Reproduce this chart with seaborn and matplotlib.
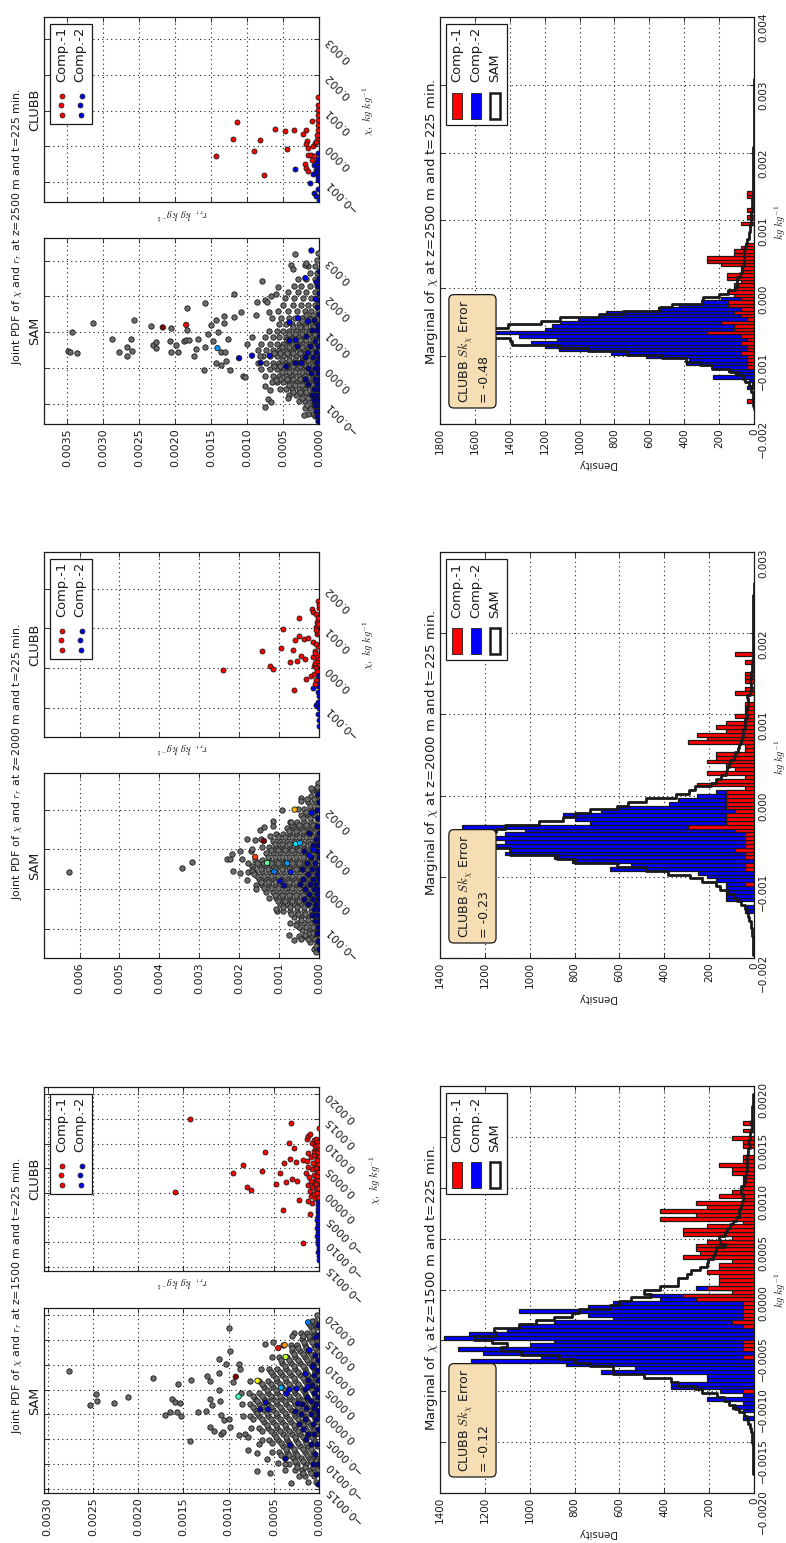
import numpy as np
import matplotlib
matplotlib.use("Agg")
import matplotlib.pyplot as plt
import seaborn as sns
from matplotlib.patches import Rectangle
from matplotlib.lines import Line2D
from matplotlib.transforms import Affine2D
from matplotlib.ticker import FuncFormatter

# ---------------- marginal histograms (bar heights per bin) ----------------
blue_1500_start = -21
blue_1500 = [50,0,50,100,50,210,50,150,370,370,210,210,680,530,840,1260,950,1210,1320,1000,890,
             1380,1270,1100,1050,890,630,740,1050,740,630,420,470,0,260]
red_1500_start = -14
red_1500 = [50,0,0,0,0,0,0,0,0,50,0,50,50,50,0,0,0,50,100,50,50,50,50,50,260,315,100,210,155,155,155,210,155,155,
            100,315,240,260,260,210,100,315,315,210,50,420,260,420,210,260,50,155,100,50,50,50,50,100,100,155,50,50,
            0,0,50,50,100,0,50,0,50]
sam_1500_start = -35
sam_1500 = [3,3,3,4,4,5,5,6,8,8,10,15,20,25,30,45,65,85,110,135,165,230,265,340,370,490,630,630,730,800,870,1040,
            1130,1100,1170,1250,1150,1160,1050,970,890,810,780,640,600,550,460,490,420,340,340,300,280,240,210,205,
            185,175,170,130,150,155,130,120,105,95,80,65,65,60,55,50,50,60,60,45,40,40,35,30,30,30,30,25,25,20,25,18,
            20,12,8,12,8,8,8,10,5,5,4]

blue_2000_start = -19
blue_2000 = [40,40,0,125,125,125,125,125,170,210,250,640,550,810,890,1110,1090,1150,1110,1360,1110,1020,1300,730,
             800,850,680,600,380,340,255,170]
red_2000_start = -12
red_2000 = [40,0,0,0,40,40,0,40,40,85,40,40,40,40,85,295,125,125,125,85,125,125,125,125,125,40,255,170,40,210,85,
            125,210,170,170,40,40,295,210,255,125,170,125,40,85,40,40,40,0,0,85,40,0,40,40,40,0,0,40,0,85]
sam_2000_start = -30
sam_2000 = [3,3,4,5,6,8,10,12,15,22,27,30,38,60,75,90,115,150,170,230,285,385,480,610,800,880,1090,1090,1160,1340,
            1340,1250,1150,1110,960,850,800,730,610,560,480,350,290,265,190,170,145,125,120,110,105,90,85,70,65,60,
            55,50,50,42,40,40,30,35,30,25,25,30,20,15,15,20,15,12,10,8,7,6,6,5,5,5,5,5,4,4,4,4,4,3,3,3,3,3,2,2,2]

blue_2500_start = -16
blue_2500 = [40,10,30,235,110,150,240,390,370,620,820,1120,1200,1280,1130,1350,1490,1200,1160,1110,1010,890,850,550,
             430,300,190]
red_2500_start = -20
red_2500 = [38,0,0,0,0,0,0,0,0,0,38,38,38,38,75,38,38,75,38,75,270,115,115,190,40,75,115,75,150,150,75,115,150,115,
            115,75,155,155,75,75,190,270,270,115,115,75,40,0,0,0,0,0,75,0,38,0,38,0,0,0,38,38]
sam_2500_start = -22
sam_2500 = [2,3,5,6,8,15,20,30,50,65,95,140,240,310,390,530,730,950,1120,1390,1400,1500,1530,1500,1410,1220,1110,890,
            750,540,470,300,290,200,150,110,100,100,95,80,70,70,60,55,55,60,55,50,45,40,30,30,25,25,18,15,15,15,12,12,
            10,10,8,8,6,6,5,5,4,4,4,4,3,3,3,3,3,2,2,2,2,2,2,2,2,2,2,2,2,2,2,2,2,2,2,2,2]

bin_centre_ref = [-0.000473, -0.000525, -0.000655]   # chi of the tallest bin
bin_width = [3.77e-5, 4.72e-5, 5.02e-5]

# ---------------- joint PDF points: chi and r_r in the units below ----------------
chi_unit = [2e-5, 1e-5, 1e-5]
r_unit = [1e-5, 1e-5, 0.5e-5]

sam_1500_out_chi = [44,9,21,14,11,18,37,35,31,-1,2,2,-2,16,12,11,-27,2,3,39,34,42,51,56,64,87,71,73,-13,-17,-20,-18,16,9,25,14,-1,-6,-5,-13,33,51,46,-36,-39,-57,-59,-69,-49,-50,-56,-45,-30,-20,-21,-23,79]
sam_1500_out_r = [276,253,247,245,227,211,184,141,156,170,165,157,153,162,159,154,143,134,125,124,120,111,103,111,98,100,60,51,120,116,108,106,120,118,110,109,108,105,100,98,95,88,87,78,68,68,54,31,45,38,38,58,66,82,88,78,30]
sam_1500_levels = [-68,-62,-56,-50,-44,-38,-32,-26,-20,-14,-8,-2,4,10,16,22,28,34,40,46,52,58,64,70,76,82,88,94,100]
sam_1500_rows = [[3,12],[6,16,22],[2,10,19,26],[5,14,24,33],[3,11,20,29,38],[7,16,26,35,44,52],[2,12,21,31,40],
                 [6,16,25,35,45,55,63],[3,11,21,30,40,50],[7,16,26,36,46,56,66,75],[2,12,21,31,41,51,61],
                 [6,16,26,36,46,56,66,76,84],[3,11,21,31,41,51,61,71],[7,16,26,36,46,56,66,76,85],
                 [2,12,21,31,41,51,61,71],[6,16,26,36,46,56,66,77,86],[3,11,21,31,41,51,61],
                 [7,16,26,36,46,56,66,76],[2,12,21,31,41,51],[6,16,26,36,46,55,64],[3,11,21,31,41],
                 [7,16,26,35,44,52],[2,12,21,30],[6,15,24,31,40],[3,10,19],[6,13,20,28],[2,9],[4,8],[2]]
sam_1500_levels2 = [-59,-53,-47,-41,-35,-29,-23,-17,-11,-5,1,7,13,19,25,31,37,43,49,55,61,67,73,79,85,91]
sam_1500_rows2 = [[9,18],[7,15,24],[3,9,18,27],[5,13,24,33,42],[9,18,28,37],[4,14,23,33,42,52],[8,18,27,37,47],
                  [5,13,23,33,43,53,63],[9,18,28,38,48,58],[4,14,23,33,43,53,63,73],[8,18,28,38,48,58,68],
                  [5,13,23,33,43,53,63,73],[9,18,28,38,48,58,68],[4,14,23,33,43,53,63,73],[8,18,28,38,48,58],
                  [5,13,23,33,43,53,63],[9,18,28,38,48],[4,14,23,33,43,53],[8,18,28,38],[5,13,23,33,42],[9,18,28],
                  [4,14,23,30],[8,17],[5,11,18],[7],[3,11]]
sam_1500_blue_levels = [-70,-60,-50,-40,-30,-25,-20,-15,-10,-5,0,3,6,10,14,18,22,26,30,35,40,45,50,55,60,65,70,80,90]
sam_1500_blue_rows = [[1],[3],[1,7],[4],[2,9],[14],[5,12],[1,18],[7,22],[3,15],[0,9,20],[1,26],[6,14],[3,19],[9],[1,13],[5],[2,16],[8],[1,12],[5],[2],[7],[1],[4],[11],[2],[1],[1]]
sam_1500_col_chi = [93,67,70,58,65,34,38,18,27,21,25,26,12,5,5,-31,-45,11,41,28,48,78]
sam_1500_col_r = [12,45,38,37,11,68,92,89,42,36,33,25,59,65,56,32,37,23,15,12,7,3]
sam_1500_col_c = [.25,.9,.75,.58,.12,.65,1,.42,.3,.12,.12,.1,.05,.05,.08,.05,.02,.05,.08,.08,.05,.05]

sam_2000_out_chi = [44,53,69,75,76,89,46,95,41,75,23,125,66,97,101,45,37,123,1,148,157,125,133,171,158,198,-49,-116,-127,-125,-116,-91,168,230,221,255,-110,-158]
sam_2000_out_r = [627,342,319,230,224,219,215,197,198,194,180,180,178,171,167,167,164,160,158,147,138,146,124,114,114,93,108,75,63,44,34,57,70,44,46,21,15,7]
sam_2000_levels = [-150,-134,-118,-102,-86,-70,-54,-38,-22,-6,10,26,42,58,74,90,106,122,138,154,170,186,202,218,234,250,266]
sam_2000_rows = [[3,12],[5,22],[2,18,35,50],[8,25,42],[3,20,37,55,72],[10,27,45,62],[3,20,37,55,72,90,105],
                 [11,28,46,63,81,98],[3,20,37,55,72,90,107,125],[11,28,46,63,81,98,116,133],
                 [3,20,37,55,72,90,107,125,142,158],[11,28,46,63,81,98,116,133,150],
                 [3,20,37,55,72,90,107,125,142,160,178],[11,28,46,63,81,98,116,133,150,168],
                 [3,20,37,55,72,90,107,125,142,160],[11,28,46,63,81,98,116,133],[3,20,37,55,72,90,107,125,142],
                 [11,28,46,63,81,98,116],[3,20,37,55,72,90,107],[11,28,46,63,81],[3,20,37,55,72],[11,28,46],
                 [3,20,37,52],[11,28],[3,20],[8,18],[3]]
sam_2000_levels2 = [-142,-126,-110,-94,-78,-62,-46,-30,-14,2,18,34,50,66,82,98,114,130,146,162,178,194,210,226,242,258]
sam_2000_rows2 = [[8],[10,28],[8,26],[14,32,50],[10,28,46],[16,34,52,70],[5,20,37,55,72,90],[14,32,50,68,85,102],
                  [5,22,40,58,75,93,110],[14,32,50,68,85,103,120,138],[5,22,40,58,75,93,110,128,146],
                  [14,32,50,68,85,103,120,138,155],[5,22,40,58,75,93,110,128,146,165],[14,32,50,68,85,103,120,138,155],
                  [5,22,40,58,75,93,110,128],[14,32,50,68,85,103,120],[5,22,40,58,75,93,110],[14,32,50,68,85,103],
                  [5,22,40,58,75],[14,32,50,68],[5,22,40],[14,32],[5,22],[12,30],[5],[6]]
sam_2000_blue_levels = [-150,-130,-110,-95,-80,-65,-50,-38,-25,-12,0,12,25,38,50,65,80,95,110,125,140,160,180,200,220,240]
sam_2000_blue_rows = [[1],[2],[1,6],[3],[1,10],[5,18],[2,12],[8,28],[1,16,38],[6,24],[2,13,35],[8,22,48],[1,16,40],[6,28],[3,18,42],[10,30],[1,20],[6,38],[2,15],[8],[1,25],[5],[2],[4],[1],[2]]
sam_2000_col_chi = [200,192,121,114,116,81,66,65,44,43,20,9,85,100]
sam_2000_col_r = [61,18,138,58,48,160,130,80,112,71,97,87,25,15]
sam_2000_col_c = [.72,.1,1,.35,.3,.85,.47,.28,.25,.15,.08,.05,.1,.1]

sam_2500_out_chi = [48,44,41,100,126,82,44,58,34,80,48,133,116,64,71,55,111,75,43,44,63,166,106,76,78,78,34,54,80,181,-7,57,120,94,76,134,100,13,8,144,125,43,45,80,207,141,156,-24,-26,-6,18,148,242,185,190,185,157,202,207,226,-110,-87,-96,-50,-63,-34,-85,-131,-136,319,288,276,288,293]
sam_2500_out_r = [696,692,673,685,627,575,556,534,534,521,519,514,468,461,452,454,411,414,411,392,397,367,368,376,369,362,347,341,336,317,320,316,301,309,295,285,281,286,272,264,264,273,262,253,237,236,217,211,205,248,258,174,159,171,150,144,139,133,119,113,149,141,133,151,137,119,85,43,11,68,77,72,40,37]
sam_2500_levels = [-130,-112,-94,-76,-58,-40,-22,-4,14,32,50,68,86,104,122,140,158,176,194,212,230,248,266,284,302,320]
sam_2500_rows = [[3,18,30],[8,26,40],[3,20,38,55],[10,28,46,64,82],[3,20,38,56,74,92,108],[10,28,46,64,82,100,118,130],
                 [3,20,38,56,74,92,110,128,150],[10,28,46,64,82,100,118,136,160],[3,20,38,56,74,92,110,128,146,170],
                 [10,28,46,64,82,100,118,136,155,165],[3,20,38,56,74,92,110,128,146,170],[10,28,46,64,82,100,118,136,160,200],
                 [3,20,38,56,74,92,110,128,150,185],[10,28,46,64,82,100,118,140],[3,20,38,56,74,92,110],[12,30,48,66,84,105,130],
                 [3,22,40,60,85,115],[10,30,50,72,100],[3,22,45,70,95],[12,35,58,85],[5,25,50,70],[12,35,58],[5,25],[12,30],[5],[3]]
sam_2500_levels2 = [-103,-85,-67,-49,-31,-13,5,23,41,59,77,95,113,131,149]
sam_2500_rows2 = [[14,32],[12,30,48],[18,36,54,72],[12,30,48,66,84],[18,36,54,72,90,108],[12,30,48,66,84,102],[18,36,54,72,90,108,124],
                  [12,30,48,66,84,102],[18,36,54,72,90,108,126],[12,30,48,66,84,102],[18,36,54,72,90],[12,30,48,66,84],[18,36,54,72],
                  [12,30,48],[18,36]]
sam_2500_blue_levels = [-150,-135,-120,-105,-90,-75,-60,-45,-30,-15,0,15,30,45,60,75,90,105,120,135,150,170,190,210,230,250,270]
sam_2500_blue_rows = [[1,3],[1,5],[2,7],[1,10],[4,14],[1,8,20],[3,15],[6,30],[1,12,40],[4,22],[2,10,30],[6,50],[1,18,40],[8],[3,25,60],[12],[1,35],[6,20],[2],[14],[1],[5],[2],[1],[3],[1],[1]]
sam_2500_col_chi = [328,251,113,120,55,27,34,14,34,127,139,76,78,130,239,192,4,13,41,13]
sam_2500_col_r = [21,38,434,369,282,222,186,162,137,82,58,82,65,30,7,9,91,65,31,49]
sam_2500_col_c = [.1,.1,1,.9,.27,.05,.08,.05,.08,.08,.1,.05,.07,.08,.05,.08,.02,.02,.05,.05]

clubb_1500_red_chi = [75,71,1,20,28,41,6,3,22,20,9,11,14,12,-17,-7,-51,-22,45,51,30,34,31,33,40,55,58,60,51,54,55,66,
                      -10,-8,-5,-3,-1,2,4,6,8,10,12,14,16,18,20,22,24,26,28,30,32,34,36,38,40,42,44,46,48,50,52,
                      -4,0,5,9,13,17,21,25,29,33,37,41,45,49]
clubb_1500_red_r = [143,31,159,95,84,60,80,75,63,43,48,37,30,24,40,22,18,10,28,33,39,32,25,18,12,13,12,10,8,5,3,0,
                    8,12,4,9,6,10,3,8,12,5,9,3,11,6,14,2,8,12,4,7,13,2,9,5,1,6,3,1,4,1,2,
                    1,2,1,3,1,2,1,3,1,2,0,1,0,1]
clubb_1500_blue_chi = [-68,-64,-60,-56,-52,-48,-44,-40,-36,-32,-28,-24,-20,-16,-12,-8,-4,0]
clubb_1500_blue_r = [0,0,1,0,1,1,2,1,2,1,2,1,1,1,1,1,0,0]
clubb_2000_red_chi = [-5,44,6,-1,99,50,46,16,19,31,22,-54,-27,-19,-14,71,80,73,77,127,148,142,135,168,104,117,67,42,29,6,-29,-39,
                      -8,2,10,14,18,25,34,38,55,60,85,90,95,110,125,150,160]
clubb_2000_red_r = [240,143,122,114,91,96,65,73,56,45,36,62,33,21,13,59,49,38,28,50,18,15,8,2,8,5,15,11,15,13,7,11,
                    4,7,3,9,5,2,6,10,3,7,5,2,8,2,3,1,1]
clubb_2000_blue_chi = [-50,-92,-145,-130,-115,-100,-85,-70,-60,-45,-35,-25,-15,-5,0]
clubb_2000_blue_r = [15,8,1,1,2,1,2,1,3,2,1,2,1,1,0]
clubb_2500_red_chi = [67,-29,20,-14,17,-81,49,42,46,-7,34,45,14,6,-6,-25,-24,-29,-40,-51,-62,-69,71,-1,8,18,137,117,102,88,74,60,46,32,13]
clubb_2500_red_r = [228,286,240,181,164,154,121,95,70,88,44,35,33,35,30,31,21,15,19,39,37,31,19,17,12,6,3,3,3,3,3,3,3,6,9]
clubb_2500_blue_chi = [-65,-104,-79,-133,-141,-52,-66,-80,-20,-150,-120,-95,-88,-72,-58,-45,-35]
clubb_2500_blue_r = [67,26,17,13,7,15,7,3,3,1,2,4,2,8,3,6,2]

# ---------------- axes limits and ticks ----------------
heights = ["1500", "2000", "2500"]
joint_chi_lim = [(-0.00159, 0.00215), (-0.00173, 0.00292), (-0.00157, 0.00363)]
joint_r_lim = [0.00304, 0.00689, 0.00382]
joint_chi_ticks = [[-.0015,-.001,-.0005,0,.0005,.001,.0015,.002], [-.001,0,.001,.002], [-.001,0,.001,.002,.003]]
joint_r_ticks = [[0,.0005,.001,.0015,.002,.0025,.003], [0,.001,.002,.003,.004,.005,.006],
                 [0,.0005,.001,.0015,.002,.0025,.003,.0035]]
joint_fmt = ["%.4f", "%.3f", "%.4f"]
joint_chi_fmt = ["%.4f", "%.3f", "%.3f"]
marg_chi_lim = [(-.002,.002), (-.002,.003), (-.002,.004)]
marg_chi_ticks = [[-.002,-.0015,-.001,-.0005,0,.0005,.001,.0015,.002], [-.002,-.001,0,.001,.002,.003],
                  [-.002,-.001,0,.001,.002,.003,.004]]
marg_fmt = ["%.4f", "%.3f", "%.3f"]
marg_d_max = [1400, 1400, 1800]
marg_d_ticks = [[0,200,400,600,800,1000,1200,1400], [0,200,400,600,800,1000,1200,1400],
                [0,200,400,600,800,1000,1200,1400,1600,1800]]
skew_errors = ["-0.12", "-0.23", "-0.48"]

# ---------------- layout in image pixels ----------------
W, H = 786, 1543
sam_tb = [(1308,1493), (773,958), (238,424)]
clubb_tb = [(1087,1271), (552,737), (17,202)]
marg_tb = [(1086,1493), (552,958), (17,424)]
joint_title_y = [1296, 762, 227]
marg_title_y = [1288, 753, 222]
rlabel_y = [1282, 748, 214]
chilabel = [(375,1180), (368,645), (368,111)]
dens_y = [1533, 998, 464]
kg_y = [1290, 757, 222]
box_bottom = [1472, 938, 403]

sns.set_theme(style="white")
plt.rcParams.update({"font.family": "DejaVu Sans", "mathtext.fontset": "cm", "axes.edgecolor": "k",
                     "axes.linewidth": 0.9, "xtick.color": "k", "ytick.color": "k"})
fig = plt.figure(figsize=(W/100, H/100), dpi=100)
pix = Affine2D().scale(1, -1).translate(0, H)


def flat(levels, rows):
    chi = [l for l, row in zip(levels, rows) for _ in row]
    r = [v for row in rows for v in row]
    return np.array(chi, float), np.array(r, float)


def new_ax(x0, x1, tb):
    return fig.add_axes([x0/W, 1-tb[1]/H, (x1-x0)/W, (tb[1]-tb[0])/H])


def style(ax, chi_ticks, chi_lim, chi_fmt, d_ticks, d_max, d_fmt, show_d=True, rot=90, dsize=7.5):
    ax.set_xlim(d_max, 0)
    ax.set_ylim(*chi_lim)
    ax.set_xticks(d_ticks)
    ax.set_yticks(chi_ticks)
    ax.xaxis.set_major_formatter(FuncFormatter(lambda v, p: (d_fmt % v).replace("-", "\u2212")))
    ax.yaxis.set_major_formatter(FuncFormatter(lambda v, p: (chi_fmt % v).replace("-", "\u2212")))
    ax.tick_params(axis="x", which="major", direction="in", length=3.5, width=.6, top=True, bottom=True,
                   labelbottom=show_d, labelrotation=90, labelsize=dsize, pad=3)
    ax.tick_params(axis="y", which="major", direction="in", length=3.5, width=.6, left=True, right=True,
                   labelleft=False, labelright=True, labelrotation=rot, labelsize=dsize, pad=3)
    ax.grid(True, color="k", linestyle=(0, (1, 3)), linewidth=.8)
    ax.set_xlabel("")
    ax.set_ylabel("")
    for s in ax.spines.values():
        s.set_visible(True)


def points(ax, chi, r, color, s=15):
    sns.scatterplot(x=np.asarray(r, float), y=np.asarray(chi, float), color=color, edgecolor="k", linewidth=.6,
                    s=s, ax=ax, legend=False, zorder=3)


def txt(x, y, s, rot=90, size=9.4, **kw):
    kw.setdefault("ha", "center")
    kw.setdefault("va", "center")
    return fig.text(x, y, s, rotation=rot, fontsize=size, transform=pix, color="k", **kw)


def bins_of(start, vals, centre, width):
    vals = np.asarray(vals, float)
    idx = np.arange(start, start+len(vals))
    edges = centre + width*(np.arange(start, start+len(vals)+1)-.5)
    return vals, centre + width*idx, edges.tolist()


sam_sets = [
    (sam_1500_out_chi, sam_1500_out_r, sam_1500_levels+sam_1500_levels2, sam_1500_rows+sam_1500_rows2, sam_1500_blue_levels, sam_1500_blue_rows, sam_1500_col_chi, sam_1500_col_r, sam_1500_col_c),
    (sam_2000_out_chi, sam_2000_out_r, sam_2000_levels+sam_2000_levels2, sam_2000_rows+sam_2000_rows2, sam_2000_blue_levels, sam_2000_blue_rows, sam_2000_col_chi, sam_2000_col_r, sam_2000_col_c),
    (sam_2500_out_chi, sam_2500_out_r, sam_2500_levels+sam_2500_levels2, sam_2500_rows+sam_2500_rows2, sam_2500_blue_levels, sam_2500_blue_rows, sam_2500_col_chi, sam_2500_col_r, sam_2500_col_c),
]
clubb_sets = [
    (clubb_1500_red_chi, clubb_1500_red_r, clubb_1500_blue_chi, clubb_1500_blue_r),
    (clubb_2000_red_chi, clubb_2000_red_r, clubb_2000_blue_chi, clubb_2000_blue_r),
    (clubb_2500_red_chi, clubb_2500_red_r, clubb_2500_blue_chi, clubb_2500_blue_r),
]
hist_sets = [
    (blue_1500_start, blue_1500, red_1500_start, red_1500, sam_1500_start, sam_1500),
    (blue_2000_start, blue_2000, red_2000_start, red_2000, sam_2000_start, sam_2000),
    (blue_2500_start, blue_2500, red_2500_start, red_2500, sam_2500_start, sam_2500),
]

for i, z in enumerate(heights):
    cu, ru = chi_unit[i], r_unit[i]
    # SAM joint panel
    out_chi, out_r, lev, rows, blev, brows, cchi, cr, cc = sam_sets[i]
    ax = new_ax(44, 319, sam_tb[i])
    gc, gr = flat(lev, rows)
    points(ax, np.r_[gc, out_chi]*cu, np.r_[gr, out_r]*ru, "#6c6c6c")
    bc, br = flat(blev, brows)
    points(ax, bc*cu, br*ru, "#00008f")
    sns.scatterplot(x=np.array(cr)*ru, y=np.array(cchi)*cu, hue=np.array(cc), palette=plt.get_cmap("jet"),
                    hue_norm=(0, 1), edgecolor="k", linewidth=.6, s=15, ax=ax, legend=False, zorder=4)
    style(ax, joint_chi_ticks[i], joint_chi_lim[i], joint_chi_fmt[i], joint_r_ticks[i], joint_r_lim[i], joint_fmt[i],
          rot=135, dsize=8)
    txt(35, sum(sam_tb[i])/2, "SAM", size=9.2)

    # CLUBB joint panel
    rc, rr, bc2, br2 = clubb_sets[i]
    ax = new_ax(44, 319, clubb_tb[i])
    points(ax, np.array(bc2)*cu, np.array(br2)*ru, "#0000e0", s=13)
    points(ax, np.array(rc)*cu, np.array(rr)*ru, "#ff0000", s=13)
    style(ax, joint_chi_ticks[i], joint_chi_lim[i], joint_chi_fmt[i], joint_r_ticks[i], joint_r_lim[i], joint_fmt[i],
          show_d=False, rot=135, dsize=8)
    T = clubb_tb[i][0]
    txt(35, sum(clubb_tb[i])/2, "CLUBB", size=9.2)
    fig.add_artist(Rectangle((50.3, T+6.5), 42, 100.5, transform=pix, fc="w", ec="k", lw=.9))
    for col, mx in [("#ff0000", (62.3, 61, 62)), ("#0000e0", (81.7, 79.7, 81))]:
        fig.add_artist(Line2D(list(mx), [T+79, T+88, T+98], transform=pix, ls="", marker="o", ms=3.6, mfc=col,
                              mec="k", mew=.5))
    txt(61.7, T+65, "Comp.-1", va="bottom")
    txt(80, T+65, "Comp.-2", va="bottom")

    # joint labels
    txt(17, joint_title_y[i], "Joint PDF of $\\chi$ and $r_r$ at z=%s m and t=225 min." % z, size=7.9)
    txt(182, rlabel_y[i], "$r_r,\\ kg\\ kg^{-1}$", rot=180, size=7.5)
    txt(chilabel[i][0], chilabel[i][1], "$\\chi,\\ kg\\ kg^{-1}$", size=7.5)

    # marginal panel
    bs, bv, rs, rv, ss, sv = hist_sets[i]
    ax = new_ax(440, 754, marg_tb[i])
    for start, vals, col in [(bs, bv, "#0000ff"), (rs, rv, "#ff0000")]:
        v, c, e = bins_of(start, vals, bin_centre_ref[i], bin_width[i])
        sns.histplot(y=c, weights=v, bins=e, color=col, alpha=1, edgecolor="k", linewidth=.9, ax=ax, zorder=2)
    v, c, e = bins_of(ss, sv, bin_centre_ref[i], bin_width[i])
    sns.histplot(y=c, weights=v, bins=e, element="step", fill=False, color="k", linewidth=2.0, ax=ax, zorder=3)
    style(ax, marg_chi_ticks[i], marg_chi_lim[i], marg_fmt[i], marg_d_ticks[i], marg_d_max[i], "%d", rot=90)
    T = marg_tb[i][0]
    txt(431, marg_title_y[i], "Marginal of $\\chi$ at z=%s m and t=225 min." % z, size=9.5)
    txt(597, dens_y[i], "Density", rot=180, size=7.2)
    txt(780, kg_y[i], "$kg\\ kg^{-1}$", size=7.5)
    txt(457, box_bottom[i], "CLUBB $Sk_{\\chi}$ Error\n= " + skew_errors[i], ha="left", va="bottom", size=9,
        multialignment="left", linespacing=1.3,
        bbox=dict(boxstyle="round,pad=0.4", fc="#f5deb3", ec="k", lw=.9))
    fig.add_artist(Rectangle((446.3, T+7), 60.7, 100.7, transform=pix, fc="w", ec="k", lw=.9))
    fig.add_artist(Rectangle((452.3, T+76), 9.4, 26, transform=pix, fc="#ff0000", ec="k", lw=.6))
    fig.add_artist(Rectangle((471, T+76), 9.7, 26, transform=pix, fc="#0000ff", ec="k", lw=.6))
    fig.add_artist(Rectangle((489.7, T+76), 10, 26, transform=pix, fc="w", ec="k", lw=1.8))
    txt(456.7, T+65.5, "Comp.-1", va="bottom")
    txt(475.7, T+65.5, "Comp.-2", va="bottom")
    txt(495, T+65.5, "SAM", va="bottom")

fig.savefig("out.png", dpi=100, facecolor="w")
